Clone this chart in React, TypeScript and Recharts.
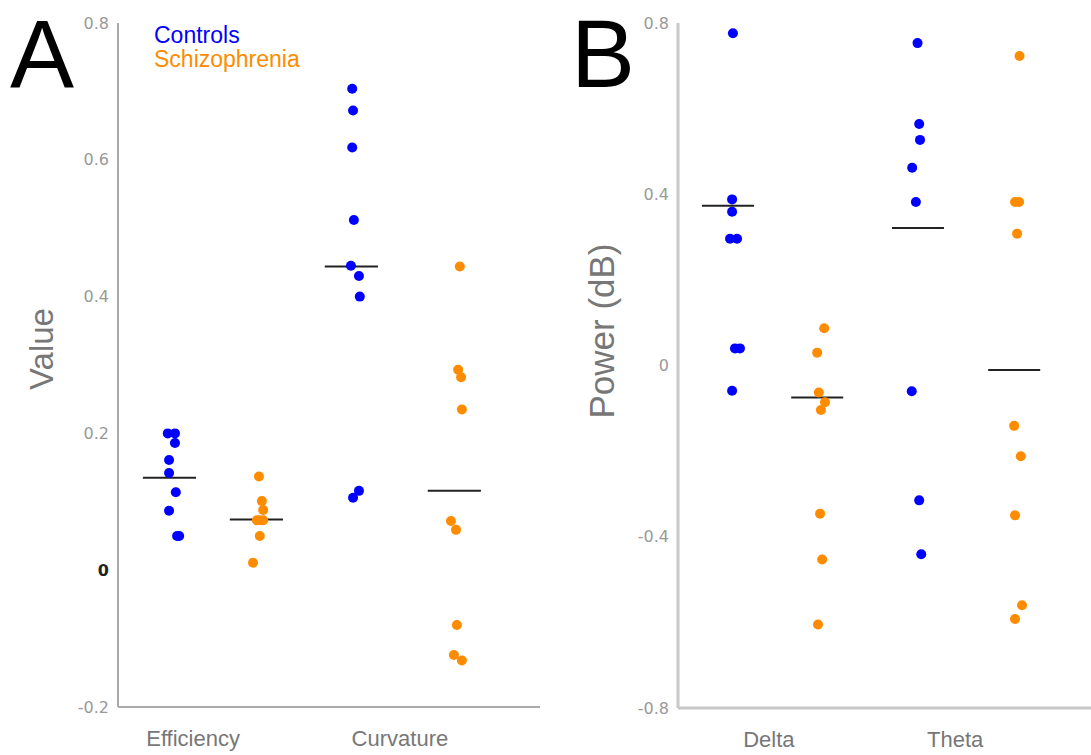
import { ScatterChart, Scatter, XAxis, YAxis, ReferenceLine, Legend } from 'recharts';

const CONTROLS_COLOR = '#0000ff';
const SCHIZ_COLOR = '#ff8c00';
const SANS = '"Liberation Sans", Arial, sans-serif';
const TICK_FONT = '"DejaVu Sans", Verdana, sans-serif';

// Panel A, each point is [x position incl. jitter, value]
const controlsEfficiency: [number, number][] = [
  [1.18, 0.2], [1.35, 0.2], [1.35, 0.186], [1.21, 0.161], [1.21, 0.142],
  [1.37, 0.114], [1.21, 0.087], [1.4, 0.05], [1.45, 0.05],
];
const schizEfficiency: [number, number][] = [
  [3.34, 0.137], [3.41, 0.101], [3.44, 0.088], [3.29, 0.073], [3.36, 0.073],
  [3.44, 0.073], [3.36, 0.05], [3.2, 0.011],
];
const controlsCurvature: [number, number][] = [
  [5.55, 0.704], [5.57, 0.672], [5.55, 0.618], [5.59, 0.512], [5.52, 0.445],
  [5.71, 0.43], [5.73, 0.4], [5.71, 0.116], [5.57, 0.106],
];
const schizCurvature: [number, number][] = [
  [8.1, 0.444], [8.06, 0.293], [8.13, 0.282], [8.15, 0.235], [7.89, 0.072],
  [8.01, 0.059], [8.03, -0.08], [7.96, -0.124], [8.15, -0.132],
];
const categoriesA = ['Efficiency', 'Curvature'];
const categoryTicksA = [1.78, 6.68];
const meanCentersA = [1.22, 3.28, 5.53, 7.97];
const meansA = [0.135, 0.074, 0.444, 0.116];
const yTicksA = [-0.2, 0, 0.2, 0.4, 0.6, 0.8];

// Panel B
const controlsDelta: [number, number][] = [
  [1.33, 0.776], [1.31, 0.388], [1.31, 0.359], [1.26, 0.296], [1.43, 0.296],
  [1.38, 0.04], [1.5, 0.04], [1.31, -0.059],
];
const schizDelta: [number, number][] = [
  [3.54, 0.087], [3.37, 0.03], [3.41, -0.063], [3.56, -0.086], [3.46, -0.104],
  [3.44, -0.346], [3.49, -0.453], [3.39, -0.605],
];
const controlsTheta: [number, number][] = [
  [5.8, 0.753], [5.84, 0.564], [5.86, 0.527], [5.67, 0.462], [5.76, 0.382],
  [5.66, -0.06], [5.84, -0.315], [5.89, -0.441],
];
const schizTheta: [number, number][] = [
  [8.27, 0.723], [8.16, 0.382], [8.26, 0.382], [8.21, 0.308], [8.14, -0.141],
  [8.3, -0.212], [8.16, -0.35], [8.33, -0.56], [8.16, -0.592],
];
const categoriesB = ['Delta', 'Theta'];
const categoryTicksB = [2.2, 6.71];
const meanCentersB = [1.21, 3.37, 5.81, 8.14];
const meansB = [0.373, -0.075, 0.321, -0.0105];
const yTicksB = [-0.8, -0.4, 0, 0.4, 0.8];

const MEAN_HALF_WIDTH = 0.63;

const toPoints = (groups: [number, number][][]) =>
  groups.flat().map(([x, y]) => ({ x, y }));

const Dot = (props: any) => <circle cx={props.cx} cy={props.cy} r={5} fill={props.fill} />;

function YTick({ x, y, payload, boldZero }: any) {
  const zero = boldZero && payload.value === 0;
  return (
    <text
      x={x}
      y={y}
      dy="0.355em"
      textAnchor="end"
      fontSize={16}
      fontFamily={TICK_FONT}
      fill={zero ? '#222' : '#999'}
      fontWeight={zero ? 'bold' : 'normal'}
    >
      {payload.value}
    </text>
  );
}

function AxisTitle(text: string, cx: number, cy: number, size: number) {
  return () => (
    <text
      x={cx}
      y={cy}
      transform={`rotate(-90 ${cx} ${cy})`}
      textAnchor="middle"
      fontSize={size}
      fontFamily={SANS}
      fill="#777"
    >
      {text}
    </text>
  );
}

function GroupLegend({ payload }: any) {
  return (
    <div style={{ fontFamily: SANS, fontSize: 23, lineHeight: '24px' }}>
      {(payload ?? []).map((p: any) => (
        <div key={p.value} style={{ color: p.color }}>
          {p.value}
        </div>
      ))}
    </div>
  );
}

const panelLetter = (letter: string, left: number) => (
  <div
    style={{
      position: 'absolute',
      left,
      top: 4,
      fontFamily: SANS,
      fontSize: 96,
      lineHeight: '100px',
      height: 100,
      color: '#000',
    }}
  >
    {letter}
  </div>
);

export default function App() {
  const meanLine = (c: number, m: number, i: number) => (
    <ReferenceLine
      key={i}
      segment={[
        { x: c - MEAN_HALF_WIDTH, y: m },
        { x: c + MEAN_HALF_WIDTH, y: m },
      ]}
      stroke="#222"
      strokeWidth={2}
    />
  );

  return (
    <div style={{ position: 'absolute', left: 0, top: 0, width: 1091, height: 755, background: '#fff' }}>
      <div style={{ position: 'absolute', left: 0, top: 0 }}>
        <ScatterChart width={560} height={755} margin={{ top: 23, right: 20, bottom: 8, left: 0 }}>
          <XAxis
            type="number"
            dataKey="x"
            domain={[0, 10]}
            ticks={categoryTicksA}
            interval={0}
            tickFormatter={(v) => categoriesA[categoryTicksA.indexOf(v)]}
            height={40}
            axisLine={{ stroke: '#aaa', strokeWidth: 2 }}
            tickLine={false}
            tickSize={0}
            tickMargin={23}
            tick={{ fontSize: 22, fill: '#777', fontFamily: SANS }}
          />
          <YAxis
            type="number"
            dataKey="y"
            domain={[-0.2, 0.8]}
            ticks={yTicksA}
            interval={0}
            width={118}
            axisLine={{ stroke: '#aaa', strokeWidth: 2 }}
            tickLine={false}
            tickSize={0}
            tickMargin={9}
            tick={<YTick boldZero />}
            label={AxisTitle('Value', 53, 349, 33)}
          />
          <Legend
            layout="vertical"
            align="center"
            verticalAlign="middle"
            content={<GroupLegend />}
            wrapperStyle={{ left: 154, top: 23, width: 'auto' }}
          />
          <Scatter
            name="Controls"
            data={toPoints([controlsEfficiency, controlsCurvature])}
            fill={CONTROLS_COLOR}
            shape={Dot}
            isAnimationActive={false}
          />
          <Scatter
            name="Schizophrenia"
            data={toPoints([schizEfficiency, schizCurvature])}
            fill={SCHIZ_COLOR}
            shape={Dot}
            isAnimationActive={false}
          />
          {meanCentersA.map((c, i) => meanLine(c, meansA[i], i))}
        </ScatterChart>
      </div>
      <div style={{ position: 'absolute', left: 560, top: 0 }}>
        <ScatterChart width={531} height={755} margin={{ top: 23, right: 0, bottom: 7, left: 0 }}>
          <XAxis
            type="number"
            dataKey="x"
            domain={[0, 10]}
            ticks={categoryTicksB}
            interval={0}
            tickFormatter={(v) => categoriesB[categoryTicksB.indexOf(v)]}
            height={40}
            axisLine={{ stroke: '#c8c8c8', strokeWidth: 3 }}
            tickLine={false}
            tickSize={0}
            tickMargin={23}
            tick={{ fontSize: 22, fill: '#777', fontFamily: SANS }}
          />
          <YAxis
            type="number"
            dataKey="y"
            domain={[-0.8, 0.8]}
            ticks={yTicksB}
            interval={0}
            width={118}
            axisLine={{ stroke: '#c8c8c8', strokeWidth: 3 }}
            tickLine={false}
            tickSize={0}
            tickMargin={9}
            tick={<YTick />}
            label={AxisTitle('Power (dB)', 54, 331, 35)}
          />
          <Scatter
            name="Controls"
            data={toPoints([controlsDelta, controlsTheta])}
            fill={CONTROLS_COLOR}
            shape={Dot}
            isAnimationActive={false}
          />
          <Scatter
            name="Schizophrenia"
            data={toPoints([schizDelta, schizTheta])}
            fill={SCHIZ_COLOR}
            shape={Dot}
            isAnimationActive={false}
          />
          {meanCentersB.map((c, i) => meanLine(c, meansB[i], i))}
        </ScatterChart>
      </div>
      {panelLetter('A', 10)}
      {panelLetter('B', 571)}
    </div>
  );
}
